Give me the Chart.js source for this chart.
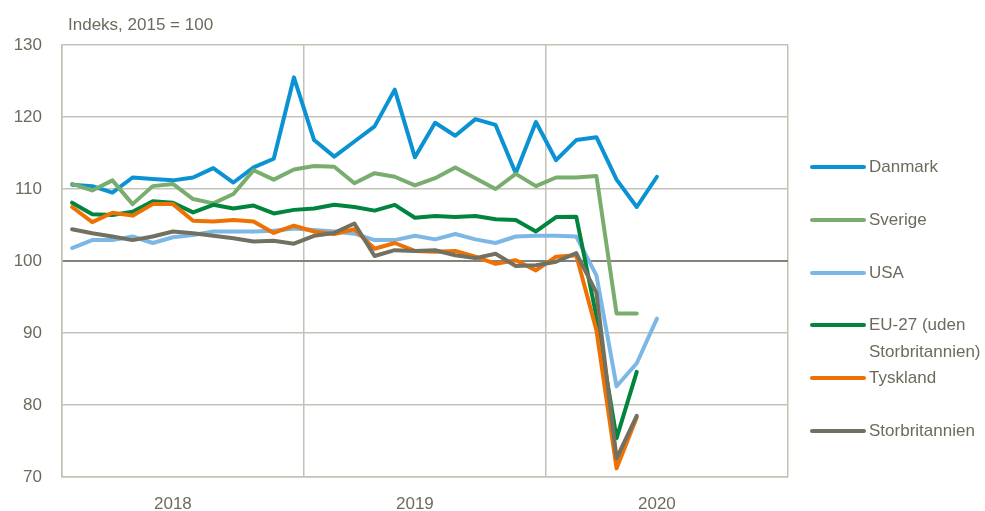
<!DOCTYPE html>
<html>
<head>
<meta charset="utf-8">
<script src="https://cdn.jsdelivr.net/npm/chart.js@4.4.1/dist/chart.umd.min.js"></script>
<style>
  html, body { margin: 0; padding: 0; background: #fff; }
  #wrap { width: 985px; height: 511px; position: relative; }
</style>
</head>
<body>
<div id="wrap"><canvas id="chart"></canvas></div>
<script>
// månedlige indeks, jan 2018 og frem (2015 = 100)
const years = ['2018', '2019', '2020'];
const yTicks = [70, 80, 90, 100, 110, 120, 130];

const danmark = [110.6, 110.4, 109.5, 111.6, 111.4, 111.2, 111.6, 112.9, 110.9, 113.0, 114.2, 125.5,
  116.8, 114.5, 116.6, 118.7, 123.8, 114.4, 119.2, 117.4, 119.7, 118.9, 112.2, 119.3,
  114.0, 116.8, 117.2, 111.3, 107.5, 111.7];
const sverige = [110.7, 109.8, 111.2, 107.9, 110.4, 110.7, 108.6, 108.0, 109.3, 112.6, 111.3, 112.7,
  113.2, 113.1, 110.8, 112.2, 111.7, 110.5, 111.5, 113.0, 111.5, 110.0, 112.1, 110.4,
  111.6, 111.6, 111.8, 92.7, 92.7];
const usa = [101.8, 102.9, 102.9, 103.4, 102.5, 103.3, 103.6, 104.1, 104.1, 104.1, 104.2, 104.5,
  104.3, 104.1, 103.8, 102.9, 102.9, 103.5, 103.0, 103.75, 103.0, 102.5, 103.4, 103.5,
  103.5, 103.4, 98.0, 82.6, 85.8, 92.0];
const eu27 = [108.1, 106.5, 106.4, 106.85, 108.3, 108.1, 106.75, 107.8, 107.3, 107.7, 106.6, 107.1,
  107.3, 107.8, 107.5, 107.0, 107.8, 106.0, 106.25, 106.1, 106.25, 105.8, 105.7, 104.1,
  106.1, 106.15, 92.3, 75.4, 84.6];
const tyskland = [107.5, 105.4, 106.7, 106.3, 107.9, 107.9, 105.6, 105.5, 105.7, 105.5, 103.9, 104.9,
  104.1, 103.75, 104.4, 101.7, 102.5, 101.4, 101.3, 101.4, 100.6, 99.6, 100.1, 98.7,
  100.6, 100.8, 90.4, 71.2, 78.3];
const storbritannien = [104.4, 103.85, 103.4, 102.9, 103.4, 104.1, 103.85, 103.5, 103.15, 102.7, 102.8, 102.4,
  103.5, 103.9, 105.2, 100.7, 101.5, 101.4, 101.5, 100.8, 100.4, 101.0, 99.3, 99.4,
  99.9, 101.1, 95.6, 72.6, 78.5];

const series = [
  { label: ['Danmark'], data: danmark, color: '#0a92d3' },
  { label: ['Sverige'], data: sverige, color: '#78ad6d' },
  { label: ['USA'], data: usa, color: '#7db8e5' },
  { label: ['EU-27 (uden', 'Storbritannien)'], data: eu27, color: '#00843e' },
  { label: ['Tyskland'], data: tyskland, color: '#ee7203' },
  { label: ['Storbritannien'], data: storbritannien, color: '#727161' }
];

const FONT = '"Liberation Sans", Arial, sans-serif';
const TEXT = '#6d6b5d';
const GRID = '#c4c1b7';

// tegnes oven i grafen: overskrift og forklaring
const extras = {
  id: 'extras',
  afterDraw(chart) {
    const ctx = chart.ctx;
    ctx.save();
    ctx.font = '17px ' + FONT;
    ctx.fillStyle = TEXT;
    ctx.textBaseline = 'middle';
    ctx.textAlign = 'left';
    ctx.fillText('Indeks, 2015 = 100', 68, 25);

    const legendY = [167, 220, 273, 325, 378, 431];
    series.forEach((s, i) => {
      const y = legendY[i];
      ctx.strokeStyle = s.color;
      ctx.lineWidth = 4;
      ctx.lineCap = 'round';
      ctx.beginPath();
      ctx.moveTo(812, y);
      ctx.lineTo(864, y);
      ctx.stroke();
      s.label.forEach((t, k) => ctx.fillText(t, 869, y + k * 27));
    });
    ctx.restore();
  }
};

new Chart(document.getElementById('chart'), {
  type: 'line',
  data: {
    datasets: series.map((s, i) => ({
      label: s.label.join(' '),
      data: s.data.map((v, m) => ({ x: m + 0.5, y: v })),
      borderColor: s.color,
      backgroundColor: s.color,
      borderWidth: 4,
      pointRadius: 0,
      tension: 0,
      borderJoinStyle: 'round',
      borderCapStyle: 'round',
      order: series.length - i
    }))
  },
  options: {
    responsive: true,
    maintainAspectRatio: false,
    animation: false,
    layout: { padding: { top: 45, right: 197, left: 0, bottom: 0 } },
    plugins: { legend: { display: false }, tooltip: { enabled: false } },
    scales: {
      x: {
        type: 'linear',
        min: 0,
        max: 36,
        afterBuildTicks: (s) => {
          s.ticks = [0, 5.5, 12, 17.5, 24, 29.5, 36].map(v => ({ value: v }));
        },
        afterFit: (s) => { s.height = 34; },
        ticks: {
          autoSkip: false,
          maxRotation: 0,
          padding: 17,
          color: TEXT,
          font: { family: FONT, size: 17 },
          callback: (v) => (v % 12 === 5.5 ? years[Math.floor(v / 12)] : '')
        },
        grid: {
          drawTicks: false,
          color: (c) => (c.tick && c.tick.value % 12 === 0 ? GRID : 'rgba(0,0,0,0)'),
          lineWidth: 1.5
        },
        border: { color: GRID, width: 1.5 }
      },
      y: {
        min: 70,
        max: 130,
        afterBuildTicks: (s) => { s.ticks = yTicks.map(v => ({ value: v })); },
        afterFit: (s) => { s.width = 62; },
        ticks: {
          padding: 20,
          color: TEXT,
          font: { family: FONT, size: 17 }
        },
        grid: {
          drawTicks: false,
          color: (c) => (c.tick && c.tick.value === 100 ? '#85827a' : GRID),
          lineWidth: (c) => (c.tick && c.tick.value === 100 ? 2 : 1.5)
        },
        border: { color: GRID, width: 1.5 }
      }
    }
  },
  plugins: [extras]
});
</script>
</body>
</html>
